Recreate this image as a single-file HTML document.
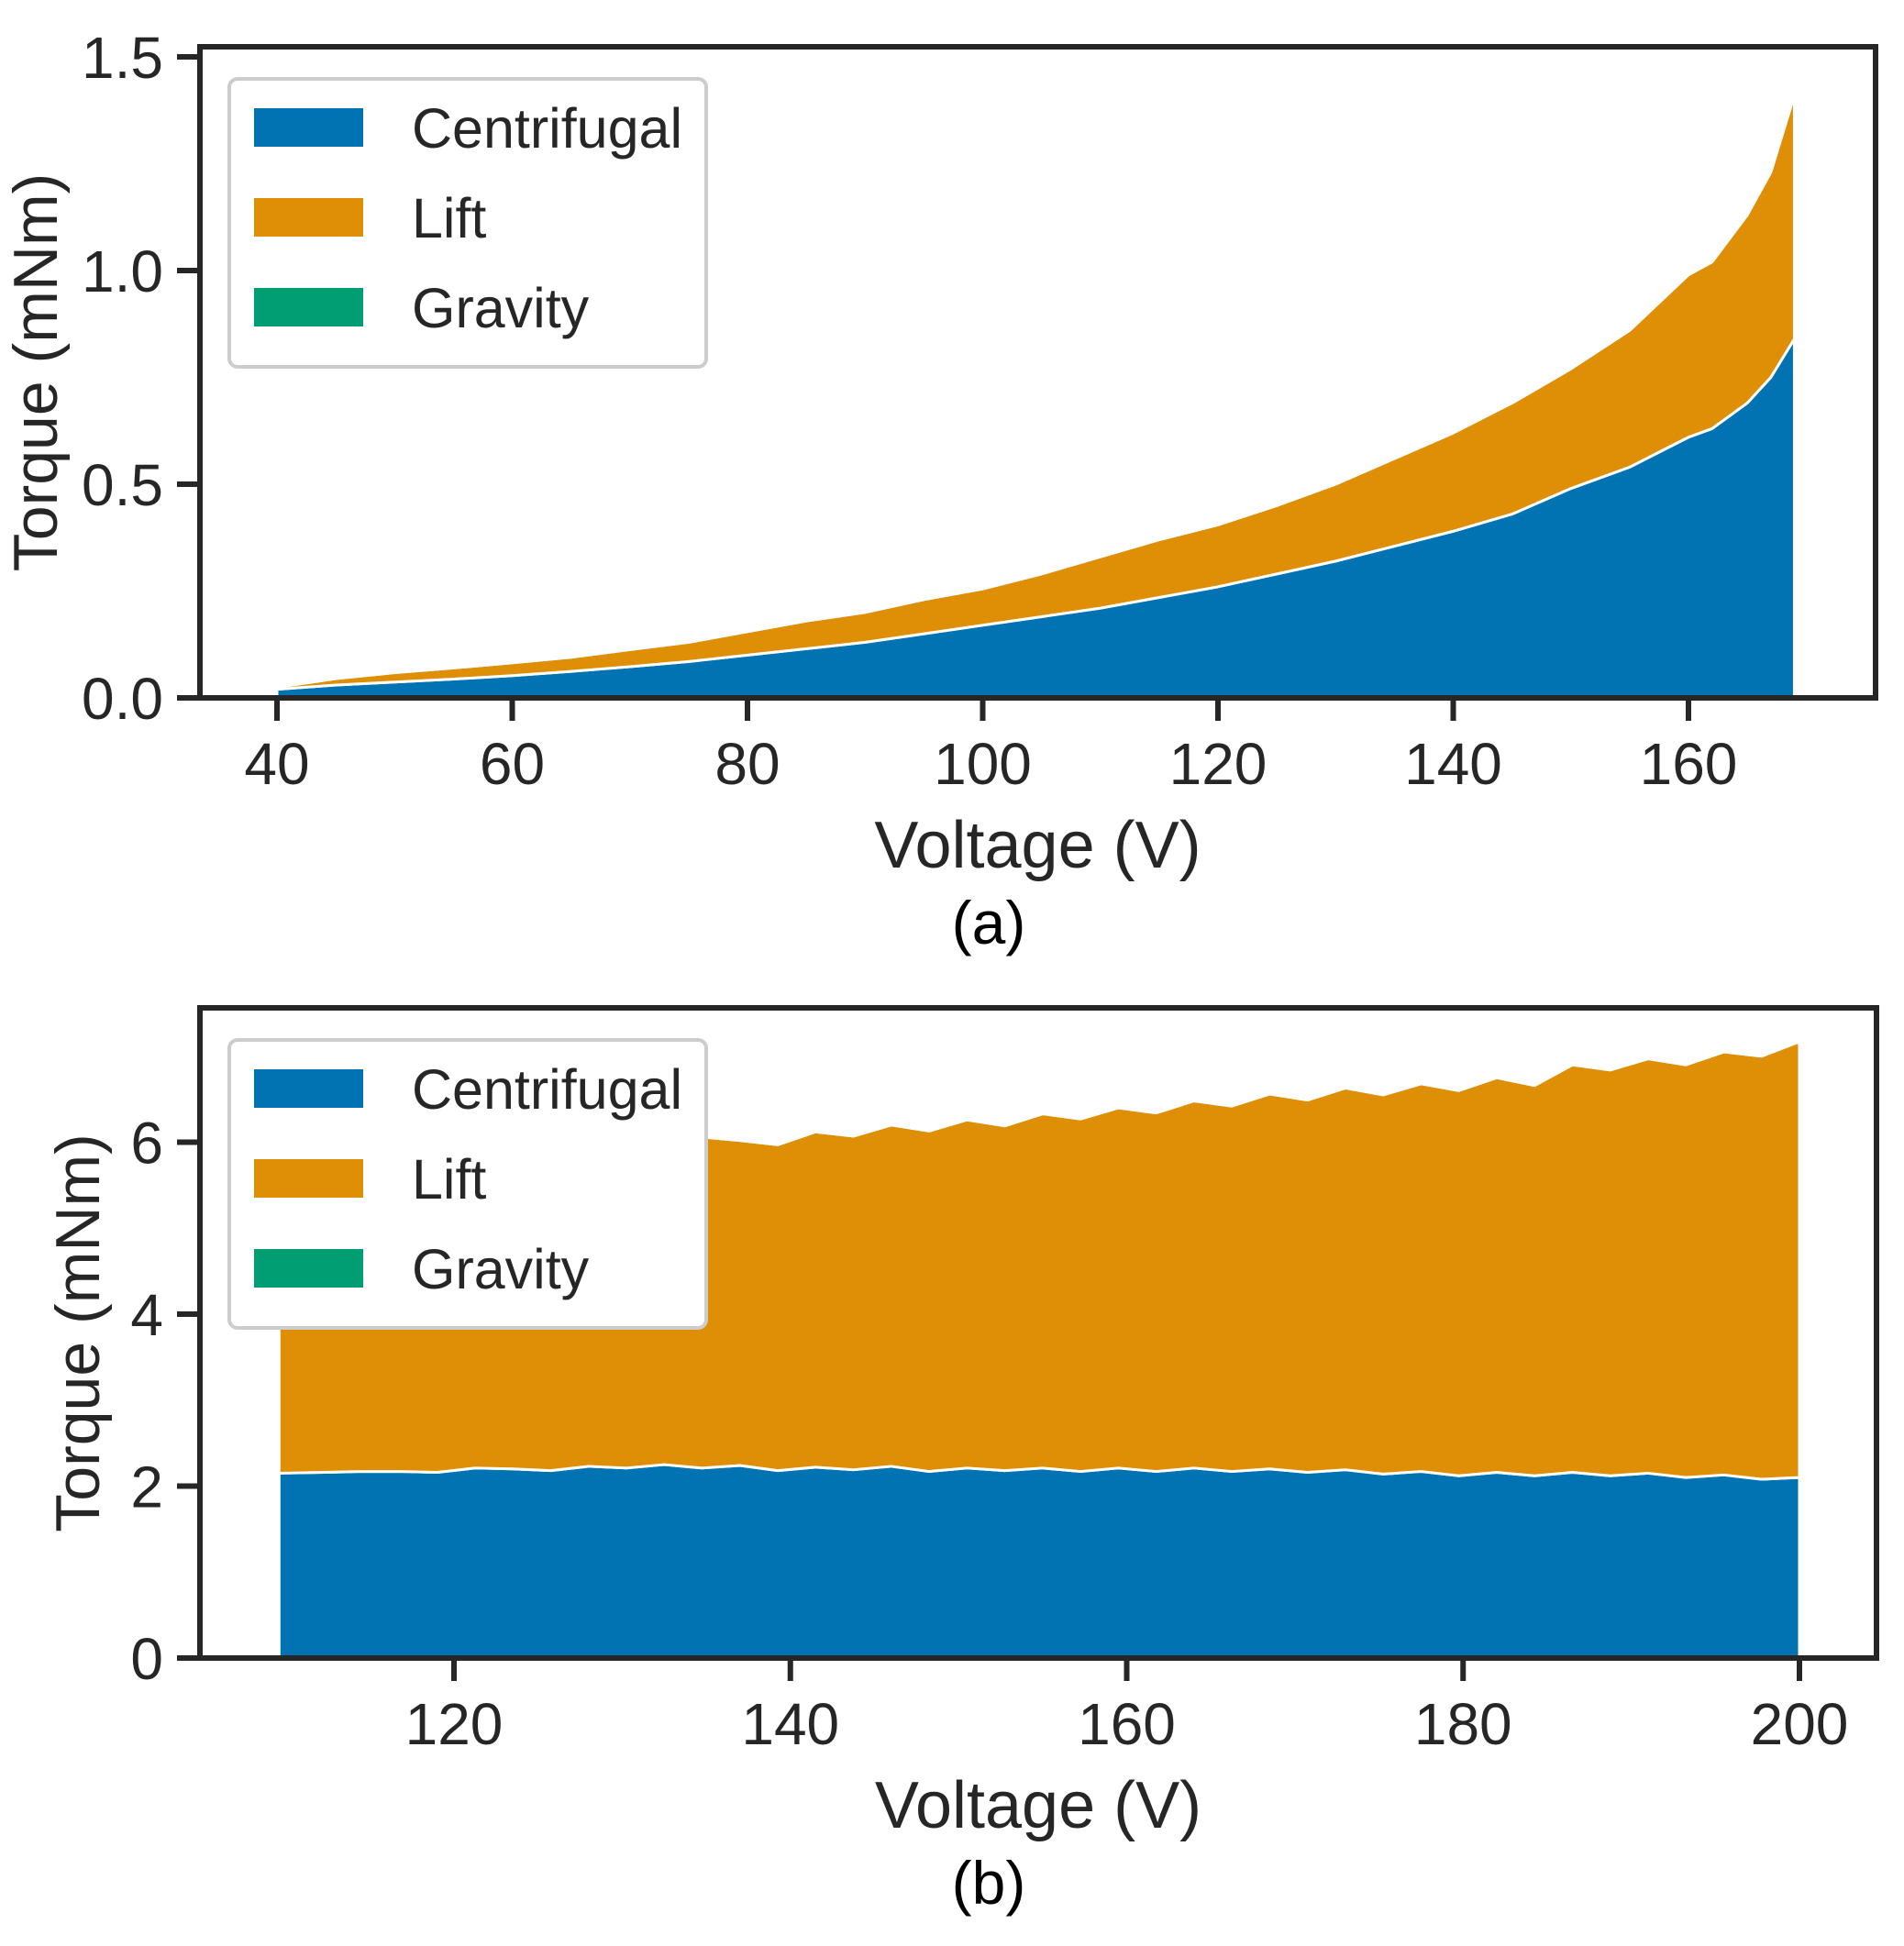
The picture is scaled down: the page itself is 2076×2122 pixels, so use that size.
<!DOCTYPE html>
<html><head><meta charset="utf-8"><style>
html,body{margin:0;padding:0;background:#fff;}
svg{display:block;font-family:"Liberation Sans",Arial,sans-serif;}
</style></head><body>
<svg id="fig" width="2076" height="2122" viewBox="0 0 2076 2122" xmlns="http://www.w3.org/2000/svg"></svg>
<script>
// Panel (a) data
const voltsA = [40,45,50,55,60,65,70,75,80,85,90,95,100,105,110,115,120,125,130,135,140,145,150,155,160,162,165,167,169];
const centA  = [0.02,0.03,0.037,0.044,0.052,0.062,0.073,0.085,0.10,0.115,0.13,0.15,0.17,0.19,0.21,0.235,0.26,0.29,0.32,0.355,0.39,0.43,0.49,0.54,0.61,0.63,0.69,0.75,0.84];
const liftA  = [0.005,0.015,0.022,0.026,0.03,0.033,0.04,0.045,0.055,0.065,0.07,0.08,0.085,0.10,0.12,0.135,0.145,0.16,0.18,0.205,0.23,0.26,0.28,0.32,0.38,0.39,0.44,0.48,0.57];
const gravA  = voltsA.map(()=>0);
const xTicksA = [40,60,80,100,120,140,160];
const yTicksA = [0,0.5,1.0,1.5];
const yTickLabelsA = ["0.0","0.5","1.0","1.5"];
// Panel (b) data
const voltsB = [109.6,112.25,114.5,116.75,119,121.25,123.5,125.75,128,130.25,132.5,134.75,137,139.25,141.5,143.75,146,148.25,150.5,152.75,155,157.25,159.5,161.75,164,166.25,168.5,170.75,173,175.25,177.5,179.75,182,184.25,186.5,188.75,191,193.25,195.5,197.75,200];
const centB  = [2.15,2.16,2.17,2.17,2.16,2.21,2.20,2.18,2.23,2.21,2.25,2.21,2.24,2.18,2.22,2.19,2.23,2.17,2.21,2.18,2.21,2.17,2.21,2.17,2.21,2.17,2.20,2.16,2.19,2.14,2.17,2.12,2.16,2.12,2.16,2.12,2.15,2.10,2.13,2.08,2.10];
const totalB = [5.70,5.78,5.74,5.85,5.80,5.92,5.86,5.98,5.92,6.05,5.98,6.06,6.02,5.97,6.12,6.07,6.20,6.13,6.26,6.19,6.33,6.27,6.40,6.34,6.48,6.42,6.56,6.49,6.63,6.55,6.68,6.60,6.75,6.66,6.90,6.84,6.97,6.90,7.05,7.00,7.17];
const gravB  = voltsB.map(()=>0);
const xTicksB = [120,140,160,180,200];
const yTicksB = [0,2,4,6];
const yTickLabelsB = ["0","2","4","6"];

const NS="http://www.w3.org/2000/svg";
const svg=document.getElementById('fig');
function mk(tag,attrs,parent){const e=document.createElementNS(NS,tag);for(const k in attrs)e.setAttribute(k,attrs[k]);(parent||svg).appendChild(e);return e;}
const INK="#262626";

function panel(cfg){
  const g=mk('g',{});
  
  
  const {L,R,T,B,y0,y1}=cfg;
  const sx=v=>cfg.xa+(v-cfg.xv0)*cfg.xs;
  const sy=v=>B-(v-y0)/(y1-y0)*(B-T);
  const n=cfg.volts.length;
  let base=cfg.volts.map(()=>0);
  const layers=[[cfg.cent,'#0173b2','centrifugal-area'],[cfg.lift,'#de8f05','lift-area'],[cfg.grav,'#029e73','gravity-area']];
  for(const [vals,col,nm] of layers){
    const top=base.map((b,i)=>b+vals[i]);
    let d='M'+sx(cfg.volts[0])+','+sy(base[0]);
    for(let i=0;i<n;i++) d+='L'+sx(cfg.volts[i])+','+sy(top[i]);
    for(let i=n-1;i>=0;i--) d+='L'+sx(cfg.volts[i])+','+sy(base[i]);
    d+='Z';
    const p=mk('path',{d:d,fill:col,stroke:'#fff','stroke-width':3,'stroke-linejoin':'round'},g);
    
    
    base=top;
  }
  const fr=mk('rect',{x:L,y:T,width:R-L,height:B-T,fill:'none',stroke:INK,'stroke-width':6},g);
  
  
  cfg.xt.forEach(v=>{
    const x=sx(v);
    const t=mk('line',{x1:x,x2:x,y1:B,y2:B+25,stroke:INK,'stroke-width':6},g);
    
    
    const tx=mk('text',{x:x,y:B+94,'text-anchor':'middle','font-size':64,fill:INK},g);
    tx.textContent=String(v);
    
    
  });
  cfg.yt.forEach((v,i)=>{
    const y=sy(v);
    const t=mk('line',{x1:L-25,x2:L,y1:y,y2:y,stroke:INK,'stroke-width':6},g);
    
    
    const tx=mk('text',{x:L-40,y:y+23,'text-anchor':'end','font-size':64,fill:INK},g);
    tx.textContent=cfg.ytl[i];
    
    
  });
  const xl=mk('text',{x:(L+R)/2,y:B+185,'text-anchor':'middle','font-size':72,fill:INK},g);
  xl.textContent='Voltage (V)';
  
  
  const yl=mk('text',{x:0,y:0,'text-anchor':'middle','font-size':68,fill:INK,transform:`translate(${cfg.ylx},${(T+B)/2}) rotate(-90)`},g);
  yl.textContent='Torque (mNm)';
  
  
  const cap=mk('text',{x:1078,y:B+268,'text-anchor':'middle','font-size':66,fill:'#000'},g);
  cap.textContent=cfg.caption;
  
  
  const lg=mk('g',{},g);
  
  
  const ly=T+35;
  mk('rect',{x:250,y:ly,width:520,height:314,rx:9,fill:'#fff',stroke:'#cccccc','stroke-width':4},lg);
  const ents=[['Centrifugal','#0173b2'],['Lift','#de8f05'],['Gravity','#029e73']];
  ents.forEach((e,i)=>{
    const cy=ly+53+i*98;
    const eg=mk('g',{},lg);
    
    
    mk('rect',{x:277,y:cy-21,width:119,height:42,fill:e[1]},eg);
    const t=mk('text',{x:449,y:cy+22,'font-size':61,fill:INK},eg);
    t.textContent=e[0];
  });
}
panel({name:'panel-a',L:218,R:2045,T:51,B:761,y0:0,y1:1.5*(761-51)/(761-62),
  xa:302,xv0:40,xs:(1841-302)/120,volts:voltsA,cent:centA,lift:liftA,grav:gravA,
  xt:xTicksA,yt:yTicksA,ytl:yTickLabelsA,ylx:62,caption:'(a)'});
const liftB=totalB.map((t,i)=>t-centB[i]);
panel({name:'panel-b',L:218,R:2046,T:1099,B:1808,y0:0,y1:(1808-1099)/93.75,
  xa:495,xv0:120,xs:(1962-495)/80,volts:voltsB,cent:centB,lift:liftB,grav:gravB,
  xt:xTicksB,yt:yTicksB,ytl:yTickLabelsB,ylx:108,caption:'(b)'});
</script>
</body></html>
